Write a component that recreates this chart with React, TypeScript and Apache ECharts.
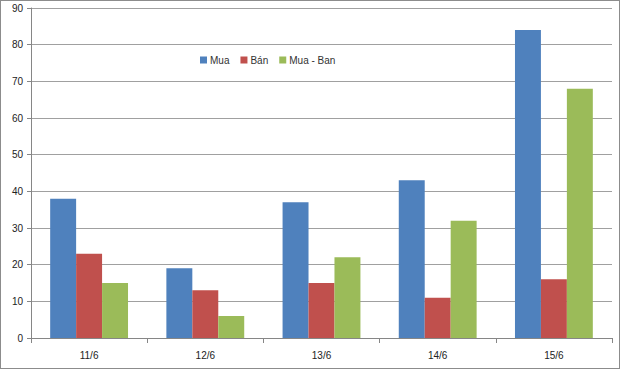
import React, { useEffect, useRef } from "react";
import * as echarts from "echarts";

const categories = ["11/6", "12/6", "13/6", "14/6", "15/6"];
const mua = [38, 19, 37, 43, 84];
const ban = [23, 13, 15, 11, 16];
const muaBan = [15, 6, 22, 32, 68];
const seriesNames = ["Mua", "Bán", "Mua - Ban"];

export default function App() {
  const ref = useRef<HTMLDivElement>(null);
  useEffect(() => {
    const chart = echarts.init(ref.current!, null, { renderer: "svg" });
    const font = "'Liberation Sans', Arial, sans-serif";
    chart.setOption({
      animation: false,
      backgroundColor: "#ffffff",
      textStyle: { fontFamily: font },
      legend: {
        data: seriesNames,
        left: 194,
        top: 49,
        icon: "rect",
        itemWidth: 7,
        itemHeight: 7,
        itemGap: 11,
        textStyle: { fontSize: 10, color: "#333", fontFamily: font, padding: [0, 0, 0, -2] },
      },
      grid: { left: 30, right: 7, top: 7, bottom: 30, containLabel: false },
      xAxis: {
        type: "category",
        data: categories,
        axisLine: { lineStyle: { color: "#868686" } },
        axisTick: { show: true, length: 5, lineStyle: { color: "#868686" } },
        axisLabel: { fontSize: 10, color: "#222", margin: 12, fontFamily: font },
      },
      yAxis: {
        type: "value",
        min: 0,
        max: 90,
        interval: 10,
        axisLine: { show: true, lineStyle: { color: "#868686" } },
        axisTick: { show: true, length: 4, lineStyle: { color: "#868686" } },
        axisLabel: { fontSize: 10, color: "#222", margin: 8, fontFamily: font },
        splitLine: { lineStyle: { color: "#a0a0a0", width: 1 } },
      },
      series: [
        { name: seriesNames[0], type: "bar", data: mua, itemStyle: { color: "#4f81bd" }, barGap: "0%", barCategoryGap: "33%" },
        { name: seriesNames[1], type: "bar", data: ban, itemStyle: { color: "#c0504d" }, barGap: "0%", barCategoryGap: "33%" },
        { name: seriesNames[2], type: "bar", data: muaBan, itemStyle: { color: "#9bbb59" }, barGap: "0%", barCategoryGap: "33%" },
      ],
    });
    return () => chart.dispose();
  }, []);
  return (
    <div
      style={{
        position: "fixed",
        left: 0,
        top: 0,
        width: 620,
        height: 369,
        boxSizing: "border-box",
        border: "1px solid #8c8c8c",
        background: "#fff",
      }}
    >
      <div ref={ref} style={{ width: 618, height: 367 }} />
    </div>
  );
}
